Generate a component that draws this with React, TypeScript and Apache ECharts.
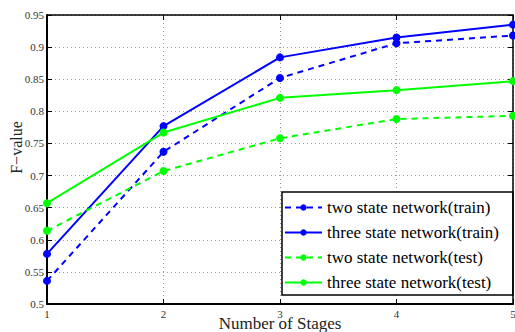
import React, { useEffect, useRef } from "react";
import * as echarts from "echarts";

const stages = [1, 2, 3, 4, 5];
const twoStateTrain = [0.536, 0.737, 0.852, 0.906, 0.918];
const threeStateTrain = [0.578, 0.777, 0.884, 0.915, 0.935];
const twoStateTest = [0.614, 0.707, 0.758, 0.788, 0.793];
const threeStateTest = [0.657, 0.767, 0.821, 0.833, 0.847];
const seriesNames = [
  "two state network(train)",
  "three state network(train)",
  "two state network(test)",
  "three state network(test)",
];
const xTitle = "Number of Stages";
const yTitle = "F\u2212value";

const FONT = "Times New Roman, Liberation Serif, DejaVu Serif, serif";

export default function App() {
  const ref = useRef<HTMLDivElement>(null);
  useEffect(() => {
    if (!ref.current) return;
    const chart = echarts.init(ref.current, undefined, { renderer: "svg" });
    const mk = (name: string, vals: number[], color: string, dashed: boolean) => ({
      name,
      type: "line",
      data: stages.map((s, i) => [s, vals[i]]),
      symbol: "circle",
      symbolSize: 8,
      showSymbol: true,
      color,
      lineStyle: { color, width: 2, type: dashed ? [6, 5] : "solid" },
      itemStyle: { color },
      z: 3,
    });
    const axisLine = { show: true, lineStyle: { color: "#000", width: 2 } };
    const splitLine = { show: true, lineStyle: { color: "#999", width: 1, type: [1, 3] } };
    chart.setOption({
      animation: false,
      textStyle: { fontFamily: FONT },
      grid: { left: 47, top: 15, right: 2, bottom: 28, containLabel: false, outerBoundsMode: "none" },
      graphic: [
        {
          type: "text",
          x: 16,
          y: 147.5,
          rotation: Math.PI / 2,
          style: {
            text: yTitle,
            fill: "#222",
            font: `16px ${FONT}`,
            align: "center",
            verticalAlign: "middle",
          },
        },
      ],
      xAxis: [
        {
          type: "value",
          min: 1,
          max: 5,
          interval: 1,
          axisLine,
          axisTick: { show: true, inside: true, length: 5, lineStyle: { color: "#000" } },
          axisLabel: { color: "#333", fontFamily: FONT, fontSize: 11, margin: 4 },
          splitLine,
          name: xTitle,
          nameLocation: "middle",
          nameGap: 11,
          nameMoveOverlap: false,
          nameTextStyle: { color: "#222", fontFamily: FONT, fontSize: 17 },
        },
        {
          type: "value",
          position: "top",
          min: 1,
          max: 5,
          interval: 1,
          axisLine: { show: true, lineStyle: { color: "#000", width: 1.5 } },
          axisTick: { show: true, inside: true, length: 5, lineStyle: { color: "#000" } },
          axisLabel: { show: false },
          splitLine: { show: false },
        },
      ],
      yAxis: [
        {
          type: "value",
          min: 0.5,
          max: 0.95,
          interval: 0.05,
          axisLine,
          axisTick: { show: true, inside: true, length: 5, lineStyle: { color: "#000" } },
          axisLabel: { color: "#333", fontFamily: FONT, fontSize: 11, margin: 3 },
          splitLine,
        },
        {
          type: "value",
          position: "right",
          min: 0.5,
          max: 0.95,
          interval: 0.05,
          axisLine: { show: true, lineStyle: { color: "#000", width: 1.5 } },
          axisTick: { show: true, inside: true, length: 5, lineStyle: { color: "#000" } },
          axisLabel: { show: false },
          splitLine: { show: false },
        },
      ],
      legend: {
        data: seriesNames,
        orient: "vertical",
        left: 282,
        top: 192,
        padding: [7, 14, 4, 2],
        itemGap: 8,
        itemWidth: 37,
        itemHeight: 8,
        borderColor: "#000",
        borderWidth: 1.5,
        backgroundColor: "#fff",
        textStyle: { color: "#000", fontFamily: FONT, fontSize: 17, lineHeight: 17, padding: [0, 0, 0, 0] },
        z: 10,
      },
      series: [
        mk(seriesNames[0], twoStateTrain, "#0000ff", true),
        mk(seriesNames[1], threeStateTrain, "#0000ff", false),
        mk(seriesNames[2], twoStateTest, "#00ff00", true),
        mk(seriesNames[3], threeStateTest, "#00ff00", false),
      ],
    });
    return () => chart.dispose();
  }, []);
  return <div ref={ref} style={{ width: 515, height: 332, position: "absolute", left: 0, top: 0 }} />;
}
